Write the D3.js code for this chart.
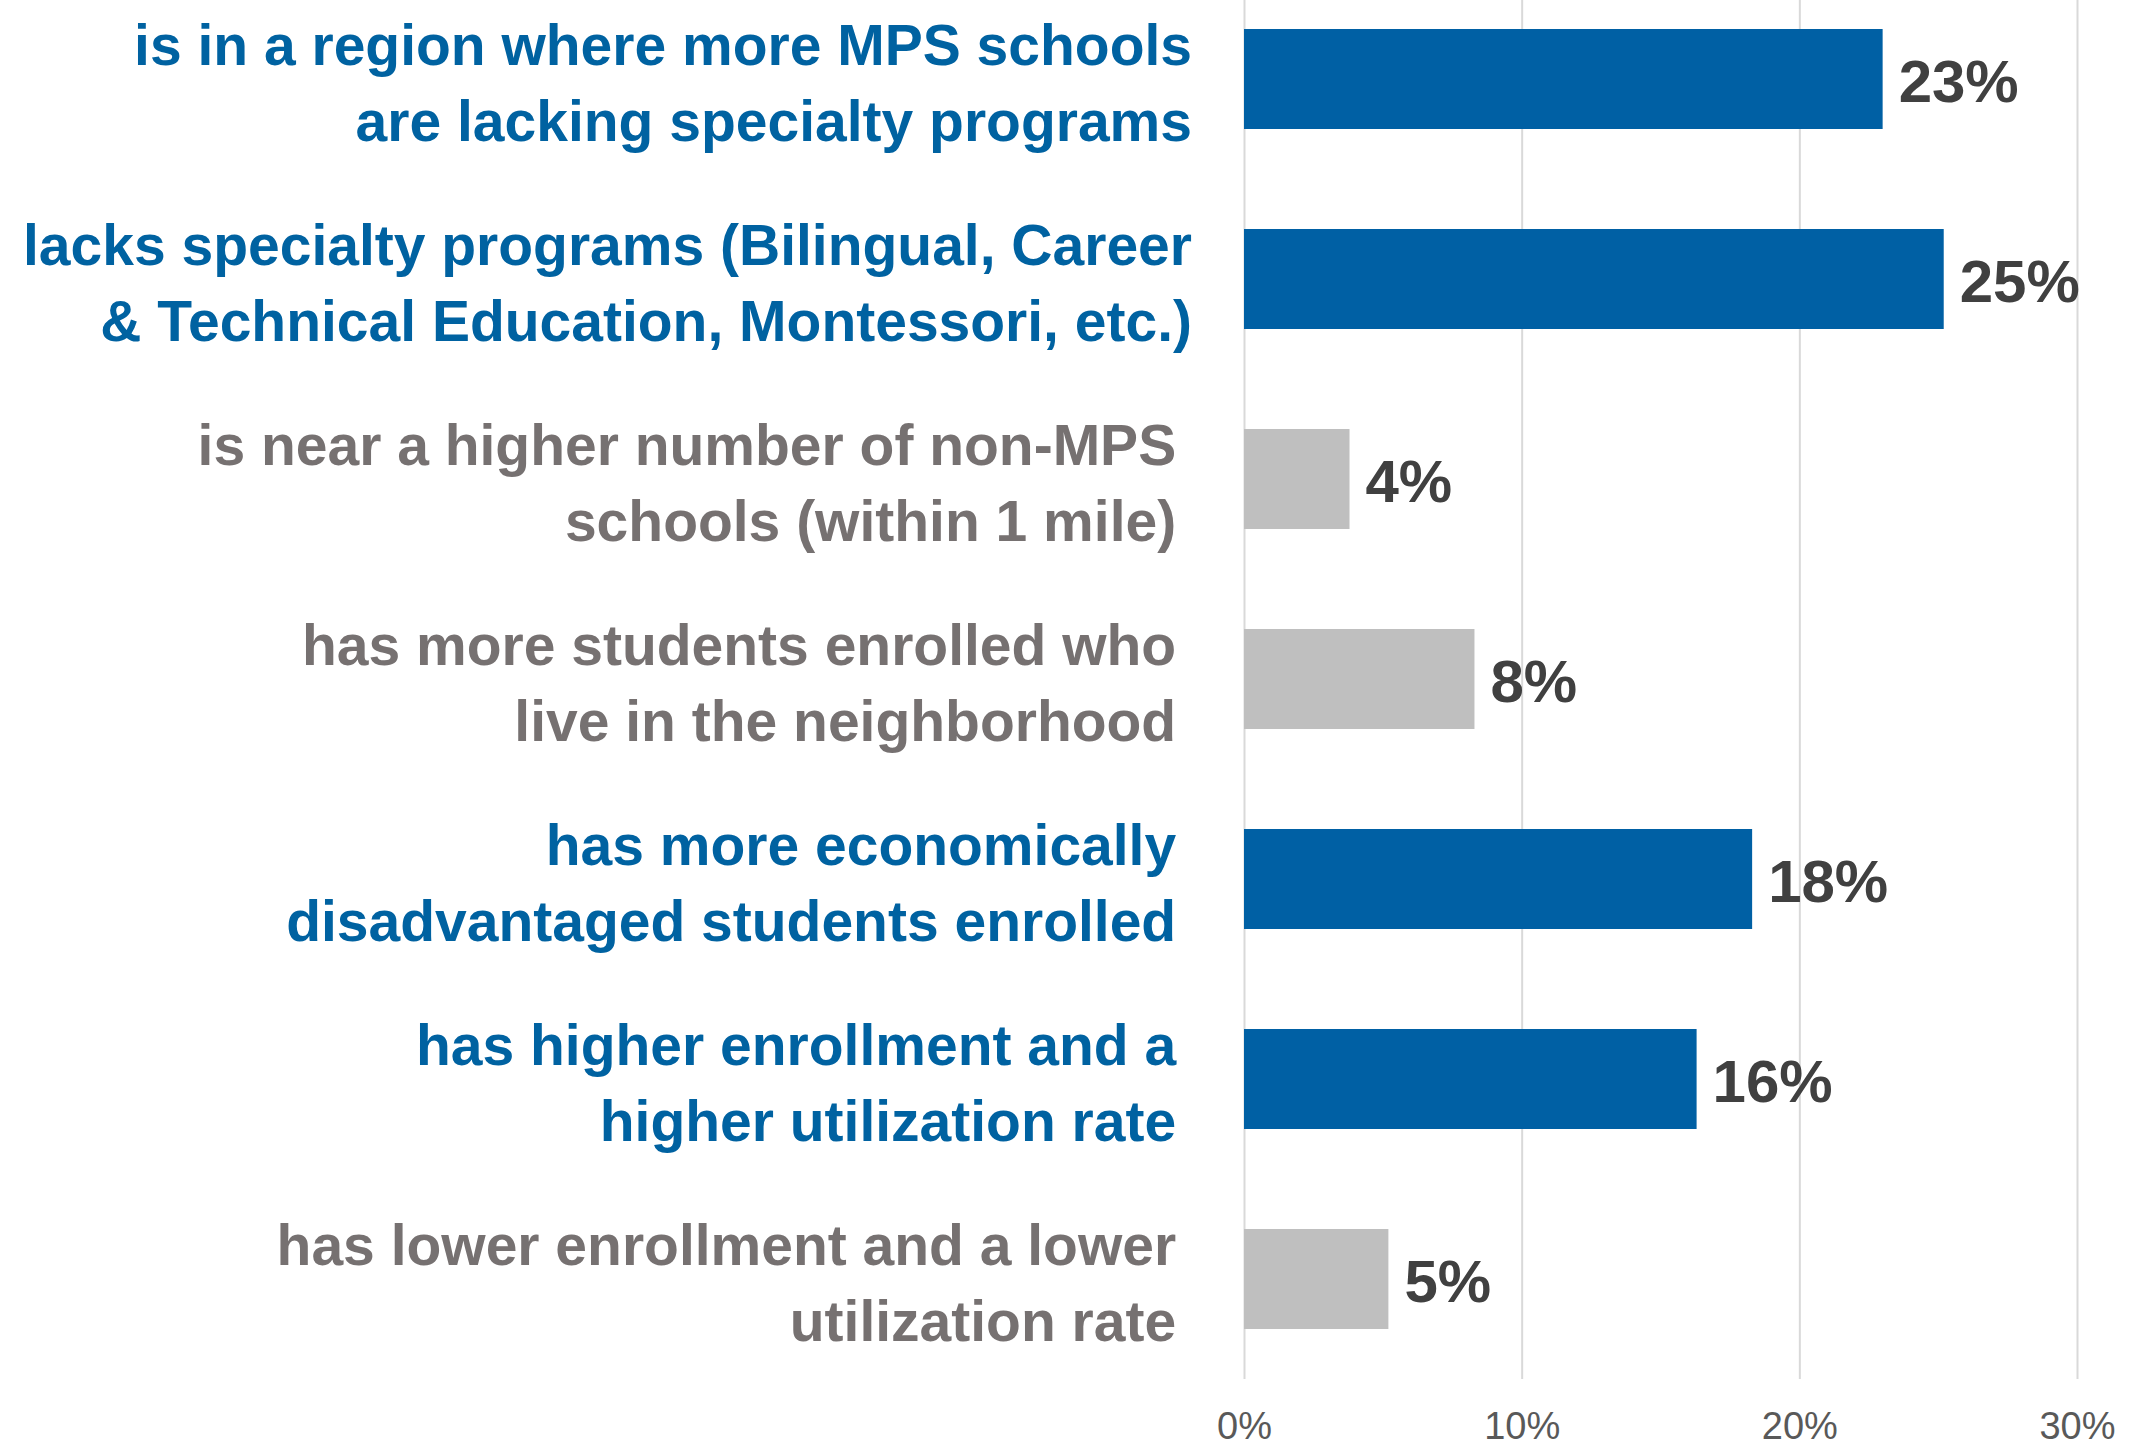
<!DOCTYPE html>
<html>
<head>
<meta charset="utf-8">
<script src="https://cdn.jsdelivr.net/npm/d3@7"></script>
<style>
  body { margin: 0; background: #fff; }
  .cat text { white-space: pre; }
</style>
</head>
<body>
<div id="chart"></div>
<script>
// Chart data
var categories = [
  ["is in a region where more MPS schools", "are lacking specialty programs"],
  ["lacks specialty programs (Bilingual, Career", "& Technical Education, Montessori, etc.)"],
  ["is near a higher number of non-MPS ", "schools (within 1 mile) "],
  ["has more students enrolled who ", "live in the neighborhood "],
  ["has more economically ", "disadvantaged students enrolled "],
  ["has higher enrollment and a ", "higher utilization rate "],
  ["has lower enrollment and a lower ", "utilization rate "]
];
var values = [23.0, 25.2, 3.8, 8.3, 18.3, 16.3, 5.2];
var highlighted = [true, true, false, false, true, true, false];
var xTicks = [0, 10, 20, 30];

// SVG area dimensions
var svgWidth = 2153;
var svgHeight = 1448;

var plot = { left: 1244, right: 2077, top: -21, bottom: 1379 };

var svg = d3.select("#chart")
  .append("svg")
  .attr("width", svgWidth)
  .attr("height", svgHeight);

var xScale = d3.scaleLinear()
  .domain([0, 30])
  .range([plot.left, plot.right]);

var yScale = d3.scaleBand()
  .domain(d3.range(categories.length))
  .range([plot.top, plot.bottom])
  .paddingInner(0.5)
  .paddingOuter(0.25);

// gridlines + tick labels
var bottomAxis = d3.axisBottom(xScale)
  .tickValues(xTicks)
  .tickFormat(d => d + "%")
  .tickSize(-plot.bottom)
  .tickPadding(33);

var axisG = svg.append("g")
  .attr("transform", `translate(0, ${plot.bottom})`)
  .call(bottomAxis);

axisG.select(".domain").remove();
axisG.selectAll(".tick line")
  .attr("stroke", "#d9d9d9")
  .attr("stroke-width", 2);
axisG.selectAll(".tick text")
  .attr("fill", "#595959")
  .style("font-family", "'Liberation Sans', sans-serif")
  .style("font-size", "38px");

// bars
svg.selectAll(".bar")
  .data(values)
  .enter()
  .append("rect")
  .attr("class", "bar")
  .attr("x", xScale(0))
  .attr("y", (d, i) => yScale(i))
  .attr("width", d => xScale(d) - xScale(0))
  .attr("height", yScale.bandwidth())
  .attr("fill", (d, i) => highlighted[i] ? "#0060a4" : "#bfbfbf");

// value labels
svg.selectAll(".val")
  .data(values)
  .enter()
  .append("text")
  .attr("class", "val")
  .attr("x", d => xScale(d) + 16)
  .attr("y", (d, i) => yScale(i) + yScale.bandwidth() / 2 + 2)
  .attr("dominant-baseline", "central")
  .attr("fill", "#404040")
  .style("font-family", "'Liberation Sans', sans-serif")
  .style("font-weight", "bold")
  .style("font-size", "60px")
  .text(d => d3.format(".0f")(d) + "%");

// category labels
var lineGap = 76;
var cats = svg.append("g").attr("class", "cat");

categories.forEach(function(lines, i) {
  var cy = yScale(i) + yScale.bandwidth() / 2 + 4;
  cats.append("text")
    .attr("text-anchor", "end")
    .attr("fill", highlighted[i] ? "#0062a1" : "#767171")
    .style("font-family", "'Liberation Sans', sans-serif")
    .style("font-weight", "bold")
    .style("font-size", "57px")
    .selectAll("tspan")
    .data(lines)
    .enter()
    .append("tspan")
      .attr("x", 1192)
      .attr("y", (d, j) => cy + (j - (lines.length - 1) / 2) * lineGap)
      .attr("dominant-baseline", "central")
      .text(d => d);
});
</script>
</body>
</html>
